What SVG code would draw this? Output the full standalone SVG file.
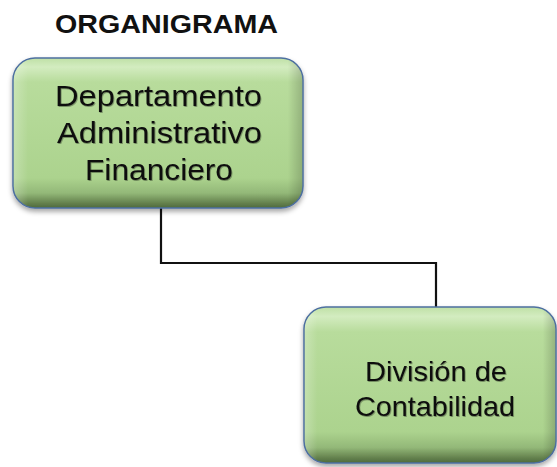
<svg xmlns="http://www.w3.org/2000/svg" width="557" height="467" viewBox="0 0 557 467">
<defs>
<linearGradient id="gv" x1="0" y1="0" x2="0" y2="1">
<stop offset="0" stop-color="#bfe0a6"/>
<stop offset="0.06" stop-color="#d3ecc0"/>
<stop offset="0.16" stop-color="#b8dc9c"/>
<stop offset="0.8" stop-color="#acd38e"/>
<stop offset="0.9" stop-color="#93b878"/>
<stop offset="0.97" stop-color="#627f4c"/>
<stop offset="1" stop-color="#4f6a3c"/>
</linearGradient>
<linearGradient id="gh" x1="0" y1="0" x2="1" y2="0">
<stop offset="0" stop-color="#ffffff" stop-opacity="0.25"/>
<stop offset="0.05" stop-color="#ffffff" stop-opacity="0"/>
<stop offset="0.95" stop-color="#000000" stop-opacity="0"/>
<stop offset="1" stop-color="#000000" stop-opacity="0.18"/>
</linearGradient>
<filter id="sh" x="-10%" y="-10%" width="120%" height="125%">
<feDropShadow dx="0" dy="3" stdDeviation="2.5" flood-color="#000" flood-opacity="0.35"/>
</filter>
<filter id="ts" x="-5%" y="-20%" width="110%" height="140%">
<feDropShadow dx="0.8" dy="1" stdDeviation="0.7" flood-color="#000" flood-opacity="0.35"/>
</filter>
<style>
.box{fill:url(#gv);stroke:#4d6fa0;stroke-width:1.5;}
.ov{fill:url(#gh);stroke:none;}
.lbl{font-family:"Liberation Sans",Arial,sans-serif;fill:#111;text-anchor:middle;}
.t1{font-size:30px;}
.t2{font-size:28px;}
.title{font-family:"Liberation Sans",Arial,sans-serif;font-size:26px;font-weight:bold;fill:#111;}
.conn{fill:none;stroke:#111;stroke-width:2.2;}
</style>
</defs>
<text class="title" x="55" y="33" textLength="223" lengthAdjust="spacingAndGlyphs">ORGANIGRAMA</text>
<g id="connectors">
<path class="conn" d="M161,206 V263 H436 V307"/>
</g>
<g id="node-dept">
<rect class="box" x="13" y="58" width="290" height="150" rx="22" filter="url(#sh)"/>
<rect class="ov" x="13.75" y="58.75" width="288.5" height="148.5" rx="21"/>
<g filter="url(#ts)">
<text class="lbl t1" x="158.5" y="106" textLength="207" lengthAdjust="spacingAndGlyphs">Departamento</text>
<text class="lbl t1" x="159.5" y="143" textLength="205" lengthAdjust="spacingAndGlyphs">Administrativo</text>
<text class="lbl t1" x="159" y="180" textLength="148" lengthAdjust="spacingAndGlyphs">Financiero</text>
</g>
</g>
<g id="node-div">
<rect class="box" x="304" y="307" width="252" height="156" rx="22" filter="url(#sh)"/>
<rect class="ov" x="304.75" y="307.75" width="250.5" height="154.5" rx="21"/>
<g filter="url(#ts)">
<text class="lbl t2" x="436" y="381" textLength="142" lengthAdjust="spacingAndGlyphs">División de</text>
<text class="lbl t2" x="435" y="416" textLength="160" lengthAdjust="spacingAndGlyphs">Contabilidad</text>
</g>
</g>
</svg>
